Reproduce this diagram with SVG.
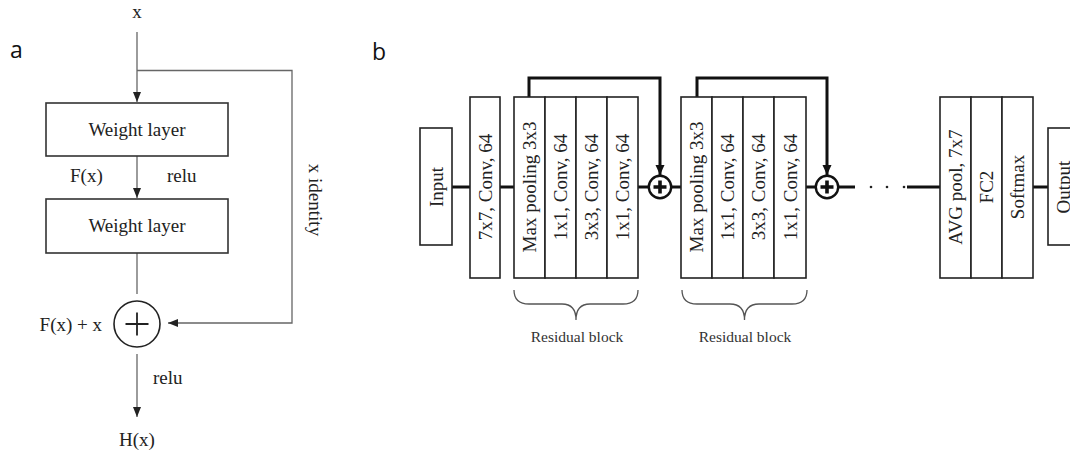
<svg xmlns="http://www.w3.org/2000/svg" width="1070" height="452" viewBox="0 0 1070 452">
<style>
.t{font-family:"Liberation Serif","Times New Roman",serif;font-size:19px;fill:#222}
.lbl{font-family:"Open Sans","Liberation Sans",sans-serif;font-size:23px;fill:#111}
.la{fill:none;stroke:#666;stroke-width:1.3}
.box{fill:#fff;stroke:#333;stroke-width:1.6}
.bb{fill:#fff;stroke:#222;stroke-width:1.6}
.thick{fill:none;stroke:#111;stroke-width:3}
.brace{fill:none;stroke:#555;stroke-width:1.3}
.rb{font-family:"Liberation Serif","Times New Roman",serif;font-size:15.5px;fill:#333}
</style>
<defs>
<marker id="ah" viewBox="0 0 10 10" refX="10" refY="5" markerWidth="10" markerHeight="10" markerUnits="userSpaceOnUse" orient="auto">
<path d="M0,1 L10,5 L0,9 Z" fill="#222"/>
</marker>
<marker id="ahb" viewBox="0 0 10 10" refX="10" refY="5" markerWidth="10" markerHeight="10" markerUnits="userSpaceOnUse" orient="auto">
<path d="M0,0.5 L10,5 L0,9.5 Z" fill="#111"/>
</marker>
</defs>

<text class="lbl" x="10" y="58">a</text>
<text class="lbl" x="372" y="60">b</text>

<g id="connectors">
<!-- panel a -->
<line class="la" x1="137" y1="32" x2="137" y2="102" marker-end="url(#ah)"/>
<polyline class="la" points="137,70.5 292,70.5 292,323 168,323" marker-end="url(#ah)"/>
<line class="la" x1="137" y1="156" x2="137" y2="198" marker-end="url(#ah)"/>
<line class="la" x1="137" y1="253" x2="137" y2="294"/>
<line class="la" x1="137" y1="354" x2="137" y2="417" marker-end="url(#ah)"/>
<!-- panel b -->
<line class="thick" x1="452" y1="187" x2="470" y2="187"/>
<line class="thick" x1="500" y1="187" x2="514" y2="187"/>
<line class="thick" x1="638" y1="187" x2="648" y2="187"/>
<line class="thick" x1="671" y1="187" x2="681" y2="187"/>
<polyline class="thick" points="529,97 529,78 660,78 660,175" marker-end="url(#ahb)"/>
<polyline class="thick" points="697,97 697,78 827,78 827,175" marker-end="url(#ahb)"/>
<line class="thick" x1="806" y1="187" x2="815" y2="187"/>
<line class="thick" x1="839" y1="187" x2="855" y2="187"/>
<circle cx="871" cy="187" r="1.3" fill="#222"/>
<circle cx="887" cy="187" r="1.3" fill="#222"/>
<circle cx="904" cy="187" r="1.3" fill="#222"/>
<line class="thick" x1="907" y1="187" x2="940" y2="187"/>
<line class="thick" x1="1033" y1="187" x2="1048" y2="187"/>
</g>

<g id="a-x"><text class="t" x="137" y="18" text-anchor="middle">x</text></g>
<g id="a-weight1">
<rect class="box" x="46" y="103" width="182" height="53"/>
<text class="t" x="137" y="136" text-anchor="middle">Weight layer</text>
</g>
<g id="a-fx-labels">
<text class="t" x="70" y="182">F(x)</text>
<text class="t" x="167" y="182">relu</text>
</g>
<g id="a-weight2">
<rect class="box" x="46" y="199" width="182" height="54"/>
<text class="t" x="137" y="232" text-anchor="middle">Weight layer</text>
</g>
<g id="a-sum">
<circle cx="137" cy="324" r="23" fill="#fff" stroke="#222" stroke-width="1.6"/>
<path d="M125.5,324 H148.5 M137,312.5 V335.5" stroke="#222" stroke-width="1.8" fill="none"/>
<text class="t" x="102" y="331" text-anchor="end">F(x) + x</text>
</g>
<g id="a-relu2"><text class="t" x="153" y="384">relu</text></g>
<g id="a-hx"><text class="t" x="137" y="446" text-anchor="middle">H(x)</text></g>
<g id="a-identity"><text class="t" transform="translate(309,200) rotate(90)" text-anchor="middle">x identity</text></g>

<g id="b-input">
<rect class="bb" x="420" y="128" width="32" height="117"/>
<text class="t" transform="translate(443,187) rotate(-90)" text-anchor="middle">Input</text>
</g>
<g id="b-conv7">
<rect class="bb" x="470" y="97" width="30" height="181"/>
<text class="t" transform="translate(491.5,187) rotate(-90)" text-anchor="middle">7x7, Conv, 64</text>
</g>

<g id="b-res1">
<rect class="bb" x="514" y="97" width="31" height="181"/>
<rect class="bb" x="545" y="97" width="31" height="181"/>
<rect class="bb" x="576" y="97" width="31" height="181"/>
<rect class="bb" x="607" y="97" width="31" height="181"/>
<text class="t" transform="translate(536,187) rotate(-90)" text-anchor="middle">Max pooling 3x3</text>
<text class="t" transform="translate(567,187) rotate(-90)" text-anchor="middle">1x1, Conv, 64</text>
<text class="t" transform="translate(598,187) rotate(-90)" text-anchor="middle">3x3, Conv, 64</text>
<text class="t" transform="translate(629,187) rotate(-90)" text-anchor="middle">1x1, Conv, 64</text>
<path class="brace" d="M514,290 Q514,304 529,304 L562,304 Q576,304 576,320 Q576,304 590,304 L623,304 Q638,304 638,290"/>
<text class="rb" x="577" y="342" text-anchor="middle">Residual block</text>
</g>

<g id="b-add1">
<circle cx="660" cy="187" r="11.2" fill="#fff" stroke="#111" stroke-width="2.4"/>
<path d="M653.5,187 H666.5 M660,180.5 V193.5" stroke="#111" stroke-width="3.6"/>
</g>

<g id="b-res2">
<rect class="bb" x="681" y="97" width="31" height="181"/>
<rect class="bb" x="712" y="97" width="31" height="181"/>
<rect class="bb" x="743" y="97" width="31" height="181"/>
<rect class="bb" x="774" y="97" width="32" height="181"/>
<text class="t" transform="translate(703,187) rotate(-90)" text-anchor="middle">Max pooling 3x3</text>
<text class="t" transform="translate(734,187) rotate(-90)" text-anchor="middle">1x1, Conv, 64</text>
<text class="t" transform="translate(765,187) rotate(-90)" text-anchor="middle">3x3, Conv, 64</text>
<text class="t" transform="translate(796.5,187) rotate(-90)" text-anchor="middle">1x1, Conv, 64</text>
<path class="brace" d="M682,290 Q682,304 697,304 L730,304 Q744.5,304 744.5,320 Q744.5,304 759,304 L792,304 Q807,304 807,290"/>
<text class="rb" x="745" y="342" text-anchor="middle">Residual block</text>
</g>

<g id="b-add2">
<circle cx="827" cy="187" r="11.2" fill="#fff" stroke="#111" stroke-width="2.4"/>
<path d="M820.5,187 H833.5 M827,180.5 V193.5" stroke="#111" stroke-width="3.6"/>
</g>

<g id="b-head">
<rect class="bb" x="940" y="97" width="31" height="181"/>
<rect class="bb" x="971" y="97" width="31" height="181"/>
<rect class="bb" x="1002" y="97" width="31" height="181"/>
<text class="t" transform="translate(962,187) rotate(-90)" text-anchor="middle">AVG pool, 7x7</text>
<text class="t" transform="translate(993,187) rotate(-90)" text-anchor="middle">FC2</text>
<text class="t" transform="translate(1024,187) rotate(-90)" text-anchor="middle">Softmax</text>
</g>

<g id="b-output">
<rect class="bb" x="1048" y="128" width="32" height="117"/>
<text class="t" transform="translate(1070,187) rotate(-90)" text-anchor="middle">Output</text>
</g>
</svg>
